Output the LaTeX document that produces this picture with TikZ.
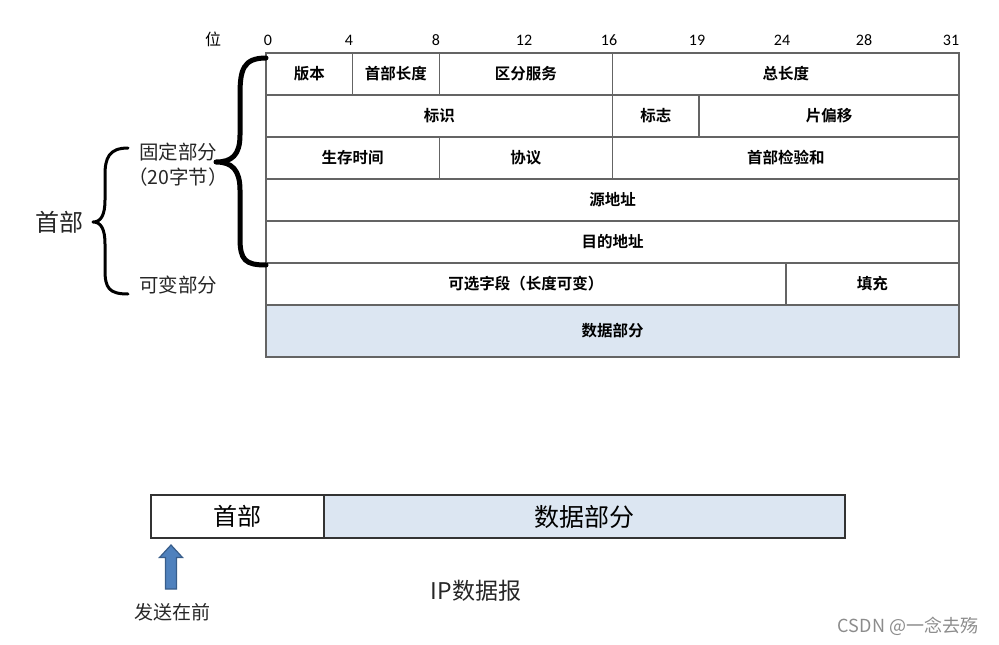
\documentclass[tikz,border=0pt]{standalone}
\usepackage{fontspec}
\newfontfamily\cjk{Noto Sans CJK SC}
\newfontfamily\cjkb{Noto Sans CJK SC Bold}
\newfontfamily\calibri{Carlito}
\definecolor{lc}{RGB}{100,100,100}
\definecolor{dfill}{RGB}{220,230,242}
\definecolor{arrfill}{RGB}{79,129,189}
\definecolor{arrdraw}{RGB}{56,93,138}
\begin{document}
\begin{tikzpicture}[x=1pt,y=-1pt,
  cell/.style={draw=lc, line width=1.5pt, inner sep=0pt, outer sep=0pt, anchor=north west,
    font=\cjkb\fontsize{15.5}{16}\selectfont, minimum height=42pt},
  bitlab/.style={font=\calibri\fontsize{16}{16}\selectfont, inner sep=0pt},
  side/.style={font=\cjk\fontsize{19.5}{20}\selectfont, text=black!85, inner sep=0pt},
  brace/.style={line width=#1, line cap=round, line join=round},
  uparrow/.style={fill=arrfill, draw=arrdraw, line width=1.2pt, line join=miter},
]
\useasboundingbox (0,0) rectangle (999,645);
% bit labels
\node[bitlab, font=\cjk\fontsize{16}{16}\selectfont] (wei) at (213,39) {位};
\node[bitlab] (b0) at (268,40) {0};
\node[bitlab] (b4) at (349,40) {4};
\node[bitlab] (b8) at (436,40) {8};
\node[bitlab] (b12) at (524,40) {12};
\node[bitlab] (b16) at (609,40) {16};
\node[bitlab] (b19) at (697,40) {19};
\node[bitlab] (b24) at (782,40) {24};
\node[bitlab] (b28) at (864,40) {28};
\node[bitlab] (b31) at (951,40) {31};
% row 1
\node[cell, minimum width=86.6pt] (ver) at (266,53) {版本};
\node[cell, minimum width=86.7pt] (hlen) at (352.6,53) {首部长度};
\node[cell, minimum width=173.2pt] (dsrv) at (439.3,53) {区分服务};
\node[cell, minimum width=346.5pt] (tlen) at (612.5,53) {总长度};
% row 2
\node[cell, minimum width=346.5pt] (ident) at (266,95) {标识};
\node[cell, minimum width=86.6pt] (flags) at (612.5,95) {标志};
\node[cell, minimum width=259.9pt] (foff) at (699.1,95) {片偏移};
% row 3
\node[cell, minimum width=173.3pt] (ttl) at (266,137) {生存时间};
\node[cell, minimum width=173.2pt] (proto) at (439.3,137) {协议};
\node[cell, minimum width=346.5pt] (csum) at (612.5,137) {首部检验和};
% rows 4-5
\node[cell, minimum width=693pt] (src) at (266,179) {源地址};
\node[cell, minimum width=693pt] (dst) at (266,221) {目的地址};
% row 6
\node[cell, minimum width=519.75pt] (opt) at (266,263) {可选字段（长度可变）};
\node[cell, minimum width=173.25pt] (pad) at (785.75,263) {填充};
% data
\node[cell, minimum width=693pt, minimum height=52pt, fill=dfill] (data) at (266,305) {数据部分};
% big brace
\draw[brace=5pt] (266,58) .. controls (243,58) and (240,70) .. (240,95) -- (240,135)
  .. controls (240,155) and (232,162) .. (216,162)
  .. controls (232,162) and (240,170) .. (240,190) -- (240,238)
  .. controls (240,260) and (245,265) .. (266,265);
% small brace
\draw[brace=3pt] (128,148) .. controls (109,148) and (105,158) .. (105,175) -- (105,200)
  .. controls (105,215) and (101,222) .. (93,222)
  .. controls (101,222) and (105,229) .. (105,244) -- (105,270)
  .. controls (105,288) and (109,294) .. (128,294);
% side labels
\node[side, font=\cjk\fontsize{24}{24}\selectfont] (hdr) at (59,222) {首部};
\node[side] (fixed) at (178,152) {固定部分};
\node[side] (bytes) at (178,177) {（20字节）};
\node[side] (var) at (178,285) {可变部分};
% bottom datagram
\node[cell, draw=black!80, minimum width=173pt, minimum height=43pt, font=\cjk\fontsize{24}{24}\selectfont] (bhdr) at (151,495) {首部};
\node[cell, draw=black!80, minimum width=521pt, minimum height=43pt, fill=dfill, font=\cjk\fontsize{25}{25}\selectfont] (bdata) at (324,495) {数据部分};
% up arrow
\draw[uparrow] (171,545) -- (182.5,557.5) -- (176.5,557.5) -- (176.5,589) -- (165.5,589)
  -- (165.5,557.5) -- (159.5,557.5) -- cycle;
\node[side, font=\cjk\fontsize{19}{19}\selectfont] (send) at (172,612) {发送在前};
\node[side, font=\cjk\fontsize{23}{23}\selectfont] (ipd) at (476,591) {IP数据报};
\node[font=\cjk\fontsize{18}{18}\selectfont, text=black!45, inner sep=0pt] (wm) at (908,626) {CSDN @一念去殇};
\end{tikzpicture}
\end{document}
